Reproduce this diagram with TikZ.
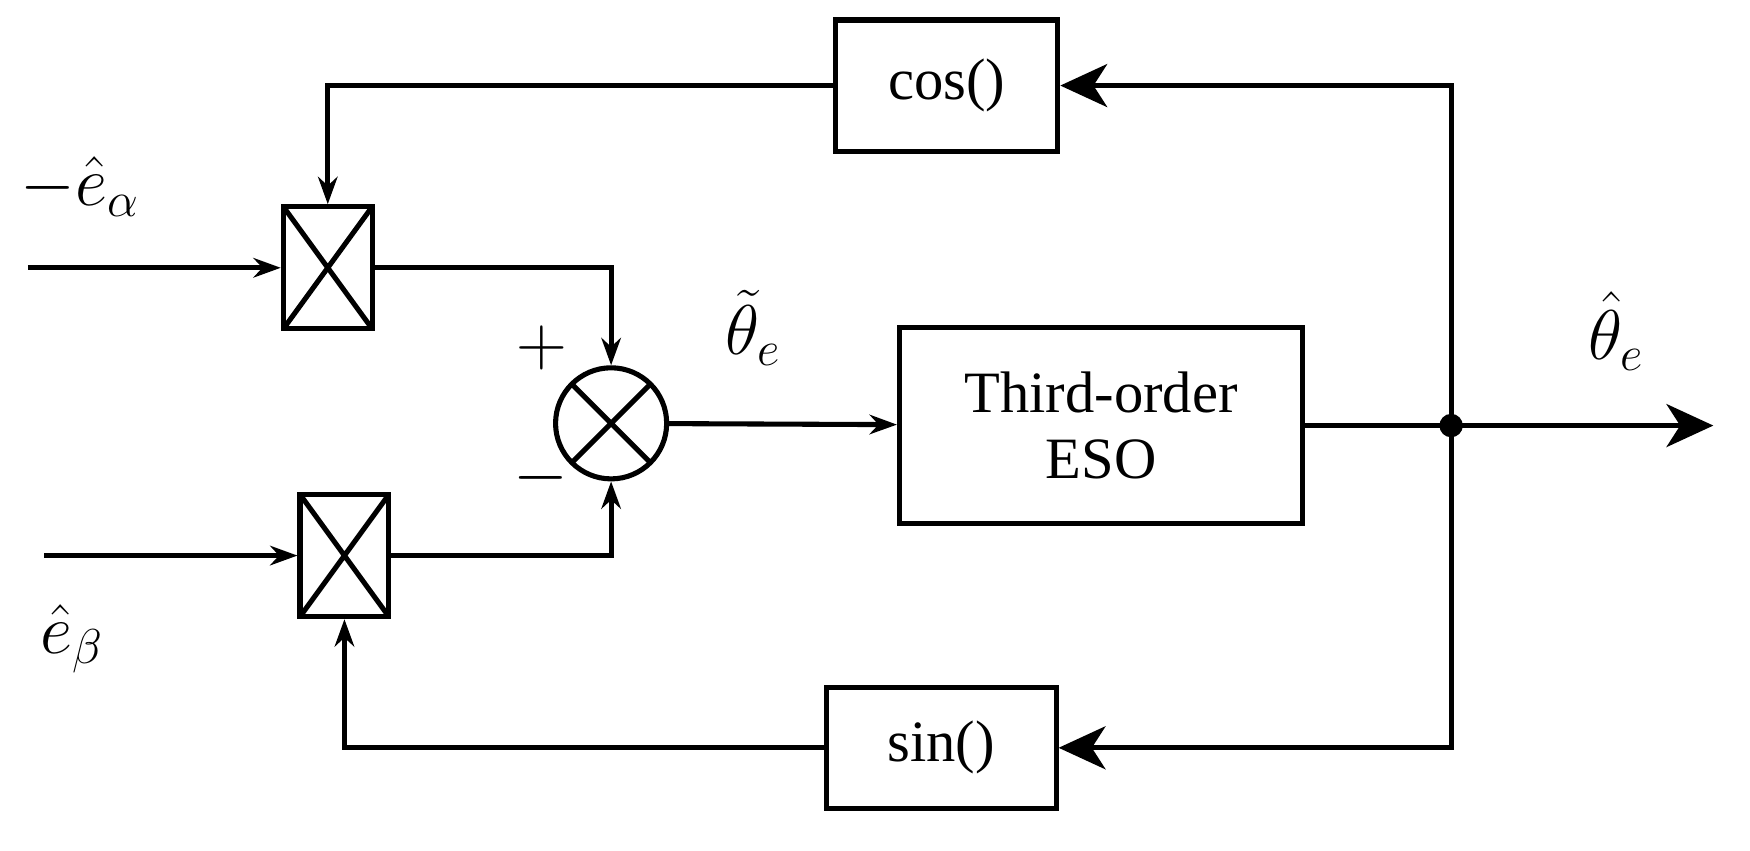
\documentclass[tikz,border=0pt]{standalone}
\usepackage{amsmath}
\usepackage{fontspec}
\setmainfont{Liberation Serif}
\usetikzlibrary{positioning,arrows.meta}

\newcommand{\biglbl}[1]{\scalebox{1.45}{$#1$}}

\tikzset{
  blk/.style={draw, line width=2.6pt, inner sep=0pt, font=\fontsize{30}{34}\selectfont, align=center},
  mult/.style={draw, line width=2.6pt, minimum width=1.6cm, minimum height=2.2cm, inner sep=0pt,
    path picture={\draw[line width=2.6pt] (path picture bounding box.north west) -- (path picture bounding box.south east)
      (path picture bounding box.north east) -- (path picture bounding box.south west);}},
  sig/.style={line width=2.6pt},
  sm/.style={sig, -{Stealth[length=14pt,width=10pt]}},
  bg/.style={sig, -{Stealth[length=24pt,width=22pt,inset=7pt]}},
  lbl/.style={font=\fontsize{24}{28}\selectfont}
}

\begin{document}
\begin{tikzpicture}[x=0.02cm,y=-0.02cm]
  \useasboundingbox (0,0) rectangle (1575,765);

  % Blocks
  \node[blk, minimum width=4cm, minimum height=2.36cm] (cosb) at (852,77) {cos()};
  \node[blk, minimum width=4.14cm, minimum height=2.18cm] (sinb) at (847,673) {sin()};
  \node[blk, minimum width=7.26cm, minimum height=3.52cm] (eso) at (991,383) {Third-order\\ESO};
  \node[mult] (m1) at (295,241) {};
  \node[mult] (m2) at (310,500) {};
  \node[draw, circle, line width=2.6pt, minimum size=2cm, inner sep=0pt,
    path picture={\draw[line width=2.6pt] (path picture bounding box.north west) -- (path picture bounding box.south east)
      (path picture bounding box.north east) -- (path picture bounding box.south west);}] (sum) at (550,381) {};

  % Points
  \coordinate (inA) at (25,241);
  \coordinate (inB) at (40,500);
  \coordinate (jn) at (1306,383);
  \coordinate (out) at (1542,383);
  \fill (jn) circle (6pt);

  % Signals
  \draw[sm] (inA) -- (m1);
  \draw[sm] (inB) -- (m2);
  \draw[sm] (m1.east) -| (sum.north);
  \draw[sm] (m2.east) -| (sum.south);
  \draw[sm] (sum) -- (eso);
  \draw[sig] (eso) -- (jn);
  \draw[bg] (jn) -- (out);
  \draw[bg] (jn) |- (cosb.east);
  \draw[bg] (jn) |- (sinb.east);
  \draw[sm] (cosb.west) -| (m1.north);
  \draw[sm] (sinb.west) -| (m2.south);

  % Labels
  \node[lbl] (la) at (72,168) {\biglbl{-\hat{e}_{\alpha}}};
  \node[lbl] (lb) at (65,575) {\biglbl{\hat{e}_{\beta}}};
  \node[lbl] (lp) at (488,313) {\biglbl{+}};
  \node[lbl] (lm) at (487,430) {\biglbl{-}};
  \node[lbl] (lt) at (678,295) {\biglbl{\tilde{\theta}_e}};
  \node[lbl] (lh) at (1455,298) {\biglbl{\hat{\theta}_e}};
\end{tikzpicture}
\end{document}
